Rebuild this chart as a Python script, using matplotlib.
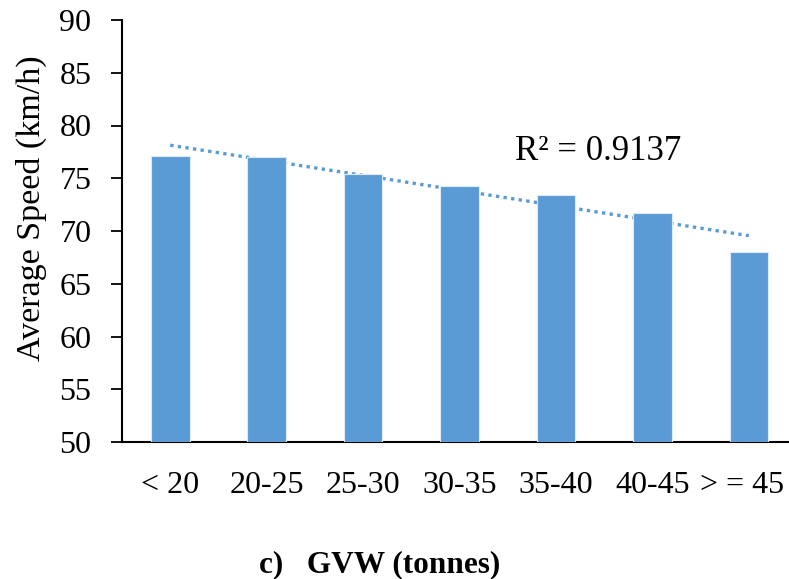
import numpy as np
import matplotlib
matplotlib.use("Agg")
import matplotlib.pyplot as plt
import matplotlib.transforms as mtransforms

# Average speed by gross vehicle weight class
categories = ["< 20", "20-25", "25-30", "30-35", "35-40", "40-45", "> = 45"]
avg_speed = [77.14, 77.0, 75.4, 74.27, 73.4, 71.7, 68.0]
r2_label = "R² = 0.9137"
y_ticks = [50, 55, 60, 65, 70, 75, 80, 85, 90]

plt.rcParams["font.family"] = ["Liberation Serif", "DejaVu Serif"]

fig = plt.figure(figsize=(7.89, 5.79), dpi=100)
ax = fig.add_axes([122 / 789, 1 - 442 / 579, 675 / 789, 422 / 579])

bar_color = "#5B9BD5"
x = np.arange(len(categories))
ax.bar(x, avg_speed, width=0.40, color=bar_color, edgecolor="#DDEBF7",
       linewidth=0.8, zorder=3)

# Linear trendline (drawn behind the bars)
slope, intercept = np.polyfit(x, avg_speed, 1)
ax.plot(x, slope * x + intercept, linestyle=(0, (1, 1.3)), color=bar_color,
        linewidth=2.4, zorder=2)

ax.text(3.58, 77.5, r2_label, fontsize=25, ha="left", va="center")

ax.set_xlim(-0.5, len(categories) - 0.5)
ax.set_ylim(50, 90)
ax.set_yticks(y_ticks)
ax.set_xticks(x)
ax.set_xticklabels(categories)

for s in ["top", "right"]:
    ax.spines[s].set_visible(False)
ax.spines["left"].set_linewidth(1.5)
ax.spines["bottom"].set_linewidth(1.5)

ax.tick_params(axis="y", direction="out", length=8, width=1.3, labelsize=23, pad=14)
ax.tick_params(axis="x", length=0, labelsize=23, pad=21)

# keep the last category label inside the figure edge
last = ax.get_xticklabels()[-1]
last.set_transform(last.get_transform() +
                   mtransforms.ScaledTranslation(-5 / 72, 0, fig.dpi_scale_trans))

ax.set_ylabel("Average Speed (km/h)", fontsize=24.5)
ax.yaxis.set_label_coords(-0.111, 0.555)

fig.text(380 / 789, 1 - 565 / 579, "c)   GVW (tonnes)", fontsize=22.5,
         fontweight="bold", ha="center", va="center")

fig.savefig("out.png", dpi=100)
